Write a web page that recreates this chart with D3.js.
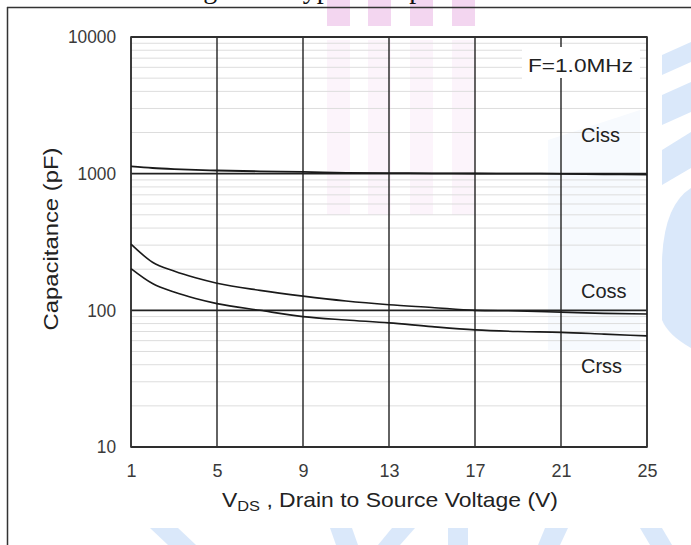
<!DOCTYPE html>
<html>
<head>
<meta charset="utf-8">
<script src="https://cdn.jsdelivr.net/npm/d3@7"></script>
<style>
  body { margin: 0; background: #fff; }
  svg { display: block; font-family: "Liberation Sans", Arial, sans-serif; }
</style>
</head>
<body>
<div class="canvas"></div>
<script>
/**
 * Data
 */
const voltage = [1, 2, 3, 4, 5, 7, 9, 11, 13, 15, 17, 19, 21, 23, 25]
const ciss = [1130, 1100, 1080, 1065, 1055, 1040, 1030, 1015, 1010, 1005, 1003, 1000, 998, 990, 985]
const coss = [305, 225, 194, 173, 158, 140, 127, 117, 110, 105, 100, 99, 97, 95, 94]
const crss = [202, 157, 136, 122, 112, 100, 90, 85, 81, 76, 72, 70, 69, 67, 65]
const xTicks = [1, 5, 9, 13, 17, 21, 25]
const yTicks = [10, 100, 1000, 10000]
const seriesNames = ["Ciss", "Coss", "Crss"]

/**
 * Dimension setup
 */
const dims = { width: 691, height: 545 }
const plot = { left: 131, right: 647, top: 37, bottom: 447 }

const svg = d3.select(".canvas")
    .append("svg")
    .attr("width", dims.width)
    .attr("height", dims.height)

const x = d3.scaleLinear().domain([1, 25]).range([plot.left, plot.right])
const y = d3.scaleLog().domain([10, 10000]).range([plot.bottom, plot.top])

/**
 * Watermark (faint background shapes)
 */
const wm = svg.append("g")
const pinkX = [327, 368, 410, 452]
pinkX.forEach(px => {
    wm.append("rect").attr("x", px).attr("y", 0).attr("width", 23).attr("height", 26).attr("fill", "#f3d6f0")
    wm.append("rect").attr("x", px).attr("y", 40).attr("width", 23).attr("height", 175).attr("fill", "#fcf4fb")
})
const blue = "#dae8fa"
wm.append("path").attr("fill", blue).attr("d", "M662,55 L691,42 L691,62 L662,75 Z")
wm.append("path").attr("fill", blue).attr("d", "M662,95 L691,82 L691,112 L662,125 Z")
wm.append("path").attr("fill", blue).attr("d", "M662,150 L691,132 L691,168 L662,185 Z")
wm.append("path").attr("fill", blue).attr("d", "M662,260 Q664,205 691,188 L691,348 Q668,335 662,320 Z")
wm.append("path").attr("fill", "#f7fafe").attr("d", "M548,140 L640,110 L640,350 L548,350 Z")
wm.append("path").attr("fill", blue).attr("d", "M150,528 L178,528 L196,545 L168,545 Z")
wm.append("path").attr("fill", blue).attr("d", "M330,528 L352,528 L358,545 L336,545 Z")
wm.append("path").attr("fill", blue).attr("d", "M392,528 L415,528 L400,545 L378,545 Z")
wm.append("path").attr("fill", blue).attr("d", "M448,528 L468,528 L468,545 L448,545 Z")
wm.append("path").attr("fill", blue).attr("d", "M545,528 L568,528 L560,545 L538,545 Z")
wm.append("path").attr("fill", blue).attr("d", "M640,528 L662,528 L672,545 L650,545 Z")

/**
 * Page frame and clipped caption (only its descenders show, as in the source)
 */
svg.append("text")
    .attr("x", 180).attr("y", -2)
    .attr("font-family", "'Liberation Serif', 'Times New Roman', serif")
    .attr("font-size", 28)
    .attr("fill", "#111")
    .text("Figure 9. Typical Capacitance")

svg.append("line").attr("x1", 7).attr("x2", dims.width).attr("y1", 7.5).attr("y2", 7.5)
    .attr("stroke", "#333").attr("stroke-width", 1.5)
svg.append("line").attr("x1", 7.5).attr("x2", 7.5).attr("y1", 7).attr("y2", dims.height)
    .attr("stroke", "#333").attr("stroke-width", 1.5)

/**
 * Grid
 */
const grid = svg.append("g")

// minor log lines
const minor = []
for (let dec = 10; dec < 10000; dec *= 10) {
    for (let m = 2; m <= 9; m++) minor.push(dec * m)
}
grid.selectAll(".minor")
    .data(minor)
    .enter().append("line")
    .attr("class", "minor")
    .attr("x1", plot.left).attr("x2", plot.right)
    .attr("y1", d => y(d)).attr("y2", d => y(d))
    .attr("stroke", "#dddddd").attr("stroke-width", 1)

// white box behind the frequency note
svg.append("rect")
    .attr("x", 522).attr("y", 47).attr("width", 118).attr("height", 32)
    .attr("fill", "#fff")

// vertical grid lines
svg.append("g").selectAll("line")
    .data(xTicks)
    .enter().append("line")
    .attr("x1", d => x(d)).attr("x2", d => x(d))
    .attr("y1", plot.top).attr("y2", plot.bottom)
    .attr("stroke", "#222").attr("stroke-width", 1.4)

svg.append("rect")
    .attr("x", 530).attr("y", 47).attr("width", 106).attr("height", 31)
    .attr("fill", "#fff")

// major horizontal lines
svg.append("g").selectAll("line")
    .data(yTicks)
    .enter().append("line")
    .attr("x1", plot.left).attr("x2", plot.right)
    .attr("y1", d => y(d)).attr("y2", d => y(d))
    .attr("stroke", "#222").attr("stroke-width", 1.8)

svg.append("rect")
    .attr("x", plot.left).attr("y", plot.top)
    .attr("width", plot.right - plot.left).attr("height", plot.bottom - plot.top)
    .attr("fill", "none").attr("stroke", "#333").attr("stroke-width", 1.6)

/**
 * Axes (labels only, lines drawn by the grid)
 */
const xAxis = svg.append("g")
    .attr("transform", `translate(0,${plot.bottom})`)
    .call(d3.axisBottom(x).tickValues(xTicks).tickSize(0).tickPadding(17).tickFormat(d3.format("d")))
xAxis.select(".domain").remove()
xAxis.selectAll("text").attr("font-size", 18).attr("fill", "#3a3a3a")
    .attr("font-family", "'Liberation Sans', Arial, sans-serif")

const yAxis = svg.append("g")
    .attr("transform", `translate(${plot.left},0)`)
    .call(d3.axisLeft(y).tickValues(yTicks).tickSize(0).tickPadding(15).tickFormat(d3.format("d")))
yAxis.select(".domain").remove()
yAxis.selectAll("text").attr("font-size", 18).attr("fill", "#3a3a3a")
    .attr("font-family", "'Liberation Sans', Arial, sans-serif")
    .attr("textLength", d => String(d).length * 9.6).attr("lengthAdjust", "spacingAndGlyphs")

// axis titles
const xTitle = svg.append("text")
    .attr("x", 222).attr("y", 507)
    .attr("font-size", 21).attr("fill", "#222")
    .attr("textLength", 336).attr("lengthAdjust", "spacingAndGlyphs")
xTitle.append("tspan").text("V")
xTitle.append("tspan").attr("font-size", 15).attr("dy", 4).text("DS")
xTitle.append("tspan").attr("dy", -4).text(" , Drain to Source Voltage (V)")

svg.append("text")
    .attr("transform", "translate(58,239) rotate(-90)")
    .attr("text-anchor", "middle")
    .attr("font-size", 21).attr("fill", "#222")
    .attr("textLength", 183).attr("lengthAdjust", "spacingAndGlyphs")
    .text("Capacitance (pF)")

/**
 * Curves
 */
const line = d3.line()
    .x((d, i) => x(voltage[i]))
    .y(d => y(d))
    .curve(d3.curveMonotoneX)

svg.append("g").selectAll("path")
    .data([ciss, coss, crss])
    .enter().append("path")
    .attr("d", line)
    .attr("fill", "none")
    .attr("stroke", "#1a1a1a")
    .attr("stroke-width", (d, i) => i === 0 ? 1.8 : 1.6)

/**
 * Labels
 */
svg.append("text")
    .attr("x", 528).attr("y", 72)
    .attr("font-size", 19).attr("fill", "#222")
    .attr("textLength", 105).attr("lengthAdjust", "spacingAndGlyphs")
    .text("F=1.0MHz")

const labelY = [142, 298, 373]
svg.append("g").selectAll("text")
    .data(seriesNames)
    .enter().append("text")
    .attr("x", 581)
    .attr("y", (d, i) => labelY[i])
    .attr("font-size", 20).attr("fill", "#222")
    .text(d => d)
</script>
</body>
</html>
